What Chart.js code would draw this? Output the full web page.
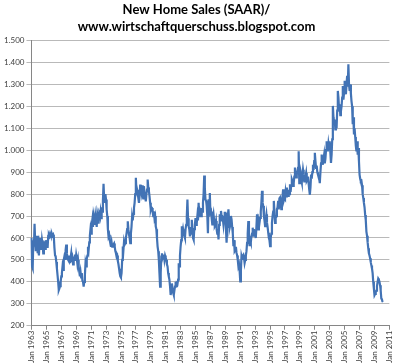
<!DOCTYPE html>
<html>
<head>
<meta charset="utf-8">
<script src="https://cdn.jsdelivr.net/npm/chart.js@4.4.1/dist/chart.umd.min.js"></script>
<style>
  html, body { margin: 0; padding: 0; background: #fff; }
  #wrap { width: 400px; height: 364px; }
</style>
</head>
<body>
<div id="wrap"><canvas id="chart"></canvas></div>
<script>
// New home sales, SAAR, thousands, monthly from Jan 1963
const sales1960s = [
  600, 470, 462, 590, 560, 665, 585, 540, 590, 610, 530, 560,
  520, 575, 560, 600, 545, 590, 570, 530, 585, 565, 550, 590,
  560, 580, 555, 610, 615, 608, 620, 612, 605, 618, 610, 615,
  605, 555, 520, 515, 490, 460, 430, 400, 362, 370, 380, 400,
  425, 440, 470, 455, 500, 515, 505, 545, 570, 530, 510, 500,
  495, 520, 485, 510, 530, 490, 505, 480, 515, 500, 525, 495,
  523, 505, 480, 500, 470, 445, 425, 445, 420, 440, 405, 400
];
const sales1970s = [
  378, 400, 430, 485, 470, 505, 520, 560, 545, 580, 610, 640,
  620, 660, 683, 650, 705, 690, 660, 700, 680, 650, 710, 695,
  665, 710, 700, 720, 690, 740, 720, 770, 847, 780, 760, 800,
  775, 730, 700, 640, 607, 615, 590, 575, 560, 580, 560, 565,
  570, 575, 560, 540, 530, 515, 520, 495, 480, 460, 440, 425,
  420, 440, 500, 561, 545, 584, 570, 576, 600, 620, 640, 676,
  640, 615, 600, 576, 620, 650, 698, 680, 710, 737, 760, 800,
  874, 810, 820, 805, 780, 760, 790, 843, 820, 805, 840, 800,
  780, 836, 800, 790, 767, 800, 820, 866, 830, 813, 790, 760,
  729, 740, 737, 720, 700, 721, 690, 700, 653, 640, 600, 561
];
const sales1980s = [
  540, 500, 440, 378, 440, 515, 530, 510, 520, 523, 500, 520,
  510, 500, 480, 470, 440, 424, 410, 380, 340, 360, 393, 370,
  350, 340, 360, 378, 400, 380, 393, 390, 410, 485, 470, 520,
  561, 590, 653, 620, 640, 622, 610, 600, 640, 660, 700, 775,
  690, 653, 640, 607, 650, 620, 683, 640, 600, 592, 640, 660,
  691, 660, 668, 700, 680, 760, 700, 729, 720, 700, 737, 720,
  760, 800, 885, 830, 775, 770, 746, 700, 622, 776, 740, 805,
  715, 721, 690, 662, 690, 708, 680, 654, 660, 677, 640, 620,
  640, 593, 660, 708, 680, 723, 700, 700, 685, 660, 690, 715,
  715, 640, 578, 650, 700, 731, 680, 647, 660, 700, 685, 650
];
const sales1990s = [
  620, 563, 590, 540, 545, 560, 532, 520, 500, 471, 480, 450,
  402, 450, 517, 505, 520, 524, 510, 486, 500, 520, 540, 578,
  620, 677, 600, 563, 590, 580, 608, 620, 647, 610, 640, 620,
  616, 600, 650, 708, 660, 639, 680, 670, 692, 720, 760, 815,
  760, 746, 700, 680, 654, 690, 708, 670, 650, 624, 600, 590,
  563, 600, 620, 669, 700, 720, 769, 720, 669, 690, 700, 731,
  740, 769, 730, 780, 784, 760, 731, 760, 790, 822, 770, 780,
  776, 810, 790, 830, 800, 792, 820, 800, 845, 810, 840, 868,
  860, 837, 850, 880, 921, 890, 876, 889, 900, 920, 995, 850,
  919, 906, 866, 853, 880, 911, 890, 858, 870, 880, 896, 860
];
const sales2000s = [
  866, 880, 850, 820, 797, 830, 889, 870, 900, 934, 910, 950,
  988, 950, 919, 930, 900, 889, 880, 873, 850, 900, 940, 980,
  950, 934, 960, 980, 940, 960, 1000, 1041, 1020, 995, 1030, 1010,
  1041, 990, 942, 980, 1050, 1202, 1150, 1133, 1140, 1095, 1120, 1100,
  1180, 1270, 1240, 1186, 1210, 1160, 1178, 1200, 1240, 1293, 1230, 1260,
  1316, 1280, 1255, 1300, 1339, 1290, 1392, 1300, 1270, 1300, 1260, 1224,
  1200, 1118, 1150, 1072, 1100, 1060, 1020, 995, 1041, 980, 1010, 950,
  889, 870, 858, 860, 840, 800, 782, 760, 740, 705, 680, 629,
  610, 580, 553, 530, 520, 507, 490, 475, 461, 440, 400, 370,
  339, 345, 354, 360, 380, 400, 415, 410, 400, 385, 360, 324
];
const sales2010s = [320, 308];

const monthNames = ["Jan", "Feb", "Mar", "Apr", "May", "Jun", "Jul", "Aug", "Sep", "Oct", "Nov", "Dec"];
const firstYear = 1963;
const lastYear = 2011;

const labels = [];
for (let y = firstYear; y <= lastYear; y++) {
  for (let m = 0; m < 12; m++) {
    if (y === lastYear && m > 0) break;
    labels.push(monthNames[m] + " " + y);
  }
}

const sales = [].concat(sales1960s, sales1970s, sales1980s, sales1990s, sales2000s, sales2010s);

function deNumber(v) {
  if (v >= 1000) {
    return Math.floor(v / 1000) + "." + String(v % 1000).padStart(3, "0");
  }
  return String(v);
}

new Chart(document.getElementById("chart"), {
  type: "line",
  data: {
    labels: labels,
    datasets: [{
      data: sales,
      borderColor: "#4273b5",
      borderWidth: 2.2,
      pointRadius: 0,
      tension: 0,
      fill: false
    }]
  },
  options: {
    responsive: true,
    maintainAspectRatio: false,
    animation: false,
    devicePixelRatio: 1,
    layout: { padding: { left: 2, right: 9, top: 2, bottom: 0 } },
    plugins: {
      legend: { display: false },
      tooltip: { enabled: false },
      title: {
        display: true,
        text: ["New Home Sales (SAAR)/", "www.wirtschaftquerschuss.blogspot.com"],
        color: "#000",
        font: { family: "Lato", size: 13, weight: "bold", lineHeight: 1.25 },
        padding: { top: 0, bottom: 6 }
      }
    },
    scales: {
      x: {
        type: "category",
        offset: false,
        grid: {
          drawOnChartArea: false,
          drawTicks: true,
          tickLength: 4,
          color: "#868686"
        },
        border: { color: "#868686" },
        ticks: {
          autoSkip: false,
          minRotation: 90,
          maxRotation: 90,
          padding: 1,
          color: "#404040",
          font: { family: "Lato", size: 8 },
          callback: function (value, index) {
            return index % 24 === 0 ? labels[index] : null;
          }
        }
      },
      y: {
        min: 200,
        max: 1500,
        grid: {
          color: "#b9b9b9",
          tickLength: 5
        },
        border: { color: "#868686" },
        ticks: {
          stepSize: 100,
          padding: 2,
          color: "#404040",
          font: { family: "Lato", size: 8 },
          callback: function (value) { return deNumber(value); }
        }
      }
    }
  }
});
</script>
</body>
</html>
